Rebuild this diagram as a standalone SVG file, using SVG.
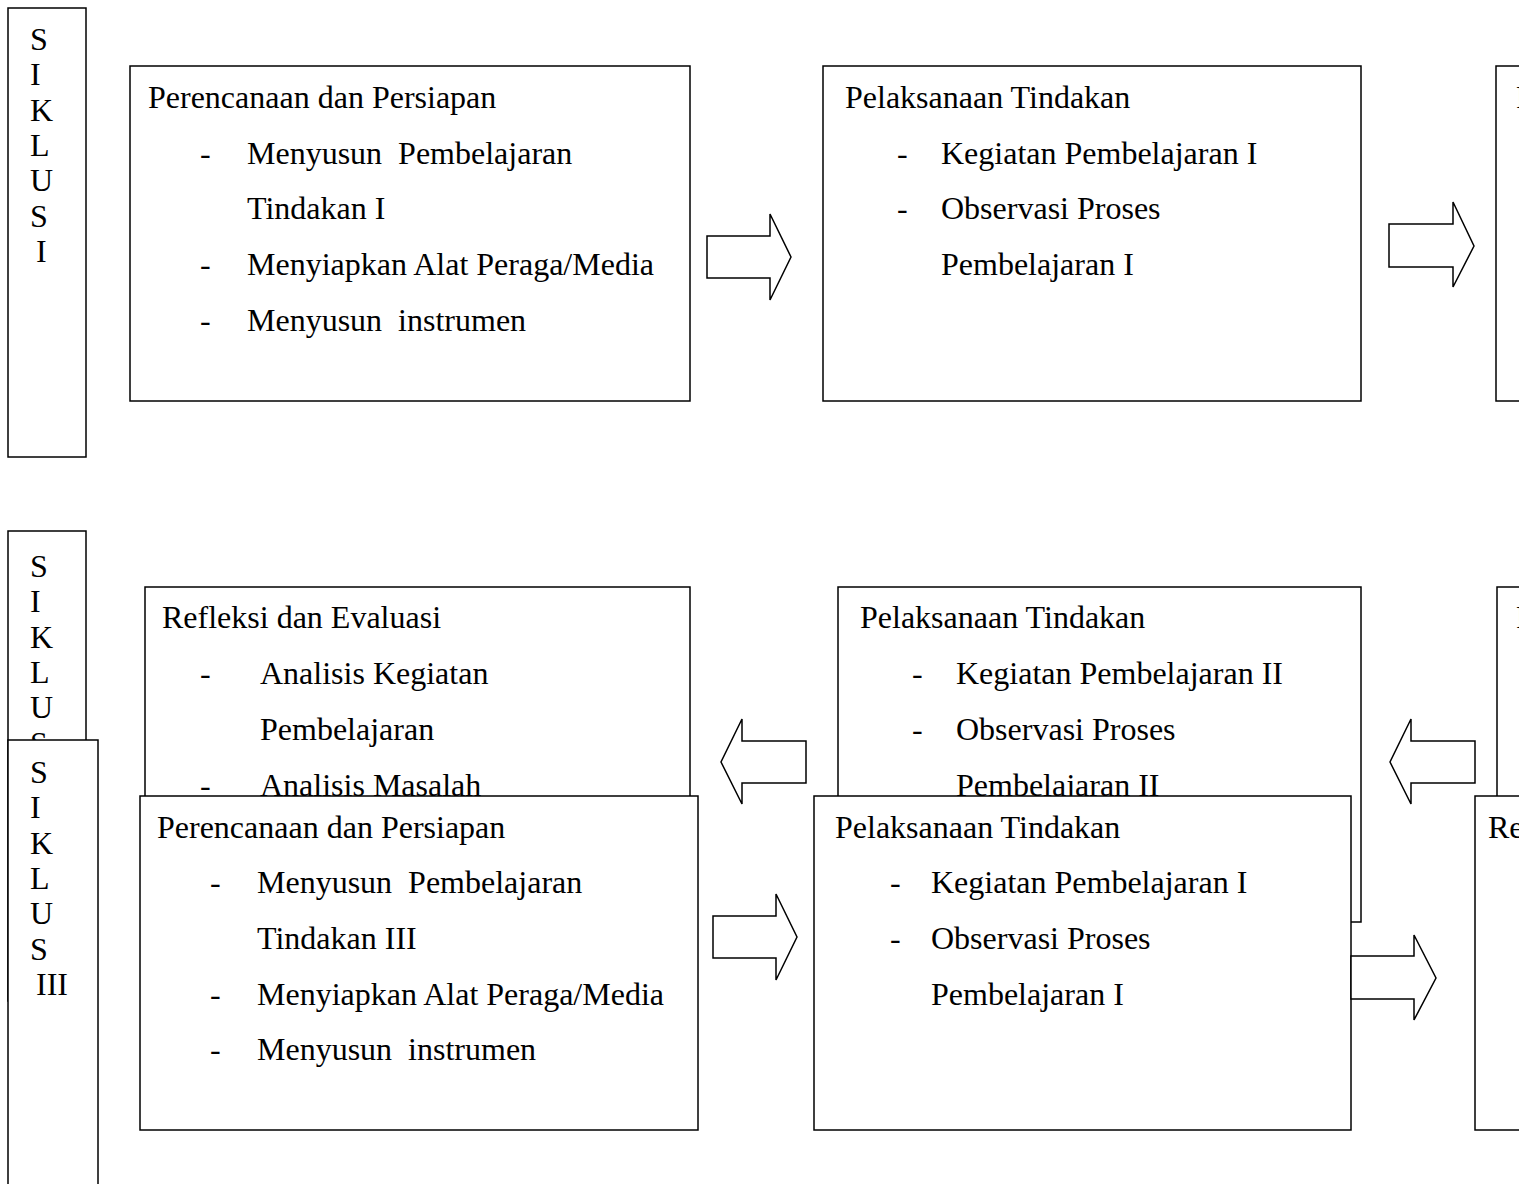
<svg xmlns="http://www.w3.org/2000/svg" width="1519" height="1184" viewBox="0 0 1519 1184">
<style>
.box{fill:#fff;stroke:#000;stroke-width:1.5}
.t{font-family:"Liberation Serif","Times New Roman",serif;font-size:32px;fill:#000}
.arrow{fill:#fff;stroke:#000;stroke-width:1.5;stroke-linejoin:miter}
</style>
<defs>
<clipPath id="clipS2"><rect x="0" y="520" width="100" height="220"/></clipPath>
</defs>
<rect width="1519" height="1184" fill="#fff"/>

<g id="siklus1">
<rect class="box" x="8" y="8" width="78" height="449"/>
<text class="t" x="30" y="50">S</text>
<text class="t" x="30" y="85">I</text>
<text class="t" x="30" y="121">K</text>
<text class="t" x="30" y="156">L</text>
<text class="t" x="30" y="191">U</text>
<text class="t" x="30" y="227">S</text>
<text class="t" x="36" y="262">I</text>
</g>

<g id="plan1">
<rect class="box" x="130" y="66" width="560" height="335"/>
<text class="t" x="148" y="108">Perencanaan dan Persiapan</text>
<text class="t" x="200" y="164">-</text>
<text class="t" x="247" y="164" xml:space="preserve">Menyusun  Pembelajaran</text>
<text class="t" x="247" y="219">Tindakan I</text>
<text class="t" x="200" y="275">-</text>
<text class="t" x="247" y="275">Menyiapkan Alat Peraga/Media</text>
<text class="t" x="200" y="331">-</text>
<text class="t" x="247" y="331" xml:space="preserve">Menyusun  instrumen</text>
</g>

<g id="act1">
<rect class="box" x="823" y="66" width="538" height="335"/>
<text class="t" x="845" y="108">Pelaksanaan Tindakan</text>
<text class="t" x="897" y="164">-</text>
<text class="t" x="941" y="164">Kegiatan Pembelajaran I</text>
<text class="t" x="897" y="219">-</text>
<text class="t" x="941" y="219">Observasi Proses</text>
<text class="t" x="941" y="275">Pembelajaran I</text>
</g>

<g id="refl1">
<rect class="box" x="1496" y="66" width="40" height="335"/>
<text class="t" x="1516" y="108">Refleksi dan Evaluasi</text>
</g>

<g id="siklus2">
<rect class="box" x="8" y="531" width="78" height="470"/>
<g clip-path="url(#clipS2)">
<text class="t" x="30" y="577">S</text>
<text class="t" x="30" y="612">I</text>
<text class="t" x="30" y="648">K</text>
<text class="t" x="30" y="683">L</text>
<text class="t" x="30" y="718">U</text>
<text class="t" x="30" y="754">S</text>
</g>
</g>

<g id="refl2">
<rect class="box" x="145" y="587" width="545" height="335"/>
<text class="t" x="162" y="628">Refleksi dan Evaluasi</text>
<text class="t" x="200" y="684">-</text>
<text class="t" x="260" y="684">Analisis Kegiatan</text>
<text class="t" x="260" y="740">Pembelajaran</text>
<text class="t" x="200" y="796">-</text>
<text class="t" x="260" y="796">Analisis Masalah</text>
</g>

<g id="act2">
<rect class="box" x="838" y="587" width="523" height="335"/>
<text class="t" x="860" y="628">Pelaksanaan Tindakan</text>
<text class="t" x="912" y="684">-</text>
<text class="t" x="956" y="684">Kegiatan Pembelajaran II</text>
<text class="t" x="912" y="740">-</text>
<text class="t" x="956" y="740">Observasi Proses</text>
<text class="t" x="956" y="796">Pembelajaran II</text>
</g>

<g id="plan2">
<rect class="box" x="1497" y="587" width="40" height="335"/>
<text class="t" x="1516" y="628">Perencanaan dan Persiapan</text>
</g>

<g id="siklus3">
<rect class="box" x="8" y="740" width="90" height="460"/>
<text class="t" x="30" y="783">S</text>
<text class="t" x="30" y="818">I</text>
<text class="t" x="30" y="854">K</text>
<text class="t" x="30" y="889">L</text>
<text class="t" x="30" y="924">U</text>
<text class="t" x="30" y="960">S</text>
<text class="t" x="36" y="995">III</text>
</g>

<g id="plan3">
<rect class="box" x="140" y="796" width="558" height="334"/>
<text class="t" x="157" y="838">Perencanaan dan Persiapan</text>
<text class="t" x="210" y="893">-</text>
<text class="t" x="257" y="893" xml:space="preserve">Menyusun  Pembelajaran</text>
<text class="t" x="257" y="949">Tindakan III</text>
<text class="t" x="210" y="1005">-</text>
<text class="t" x="257" y="1005">Menyiapkan Alat Peraga/Media</text>
<text class="t" x="210" y="1060">-</text>
<text class="t" x="257" y="1060" xml:space="preserve">Menyusun  instrumen</text>
</g>

<g id="act3">
<rect class="box" x="814" y="796" width="537" height="334"/>
<text class="t" x="835" y="838">Pelaksanaan Tindakan</text>
<text class="t" x="890" y="893">-</text>
<text class="t" x="931" y="893">Kegiatan Pembelajaran I</text>
<text class="t" x="890" y="949">-</text>
<text class="t" x="931" y="949">Observasi Proses</text>
<text class="t" x="931" y="1005">Pembelajaran I</text>
</g>

<g id="refl3">
<rect class="box" x="1475" y="796" width="60" height="334"/>
<text class="t" x="1488" y="838">Refleksi dan Evaluasi</text>
</g>

<g id="connectors">
<polygon class="arrow" points="707,236 770,236 770,214 791,257 770,300 770,278 707,278"/>
<polygon class="arrow" points="1389,224 1453,224 1453,202 1474,246 1453,287 1453,267 1389,267"/>
<polygon class="arrow" points="806,741 742,741 742,719 721,762 742,804 742,783 806,783"/>
<polygon class="arrow" points="1475,741 1411,741 1411,719 1390,762 1411,804 1411,783 1475,783"/>
<polygon class="arrow" points="713,916 776,916 776,894 797,937 776,980 776,958 713,958"/>
<polygon class="arrow" points="1351,956 1414,956 1414,935 1436,978 1414,1020 1414,999 1351,999"/>
</g>
</svg>
